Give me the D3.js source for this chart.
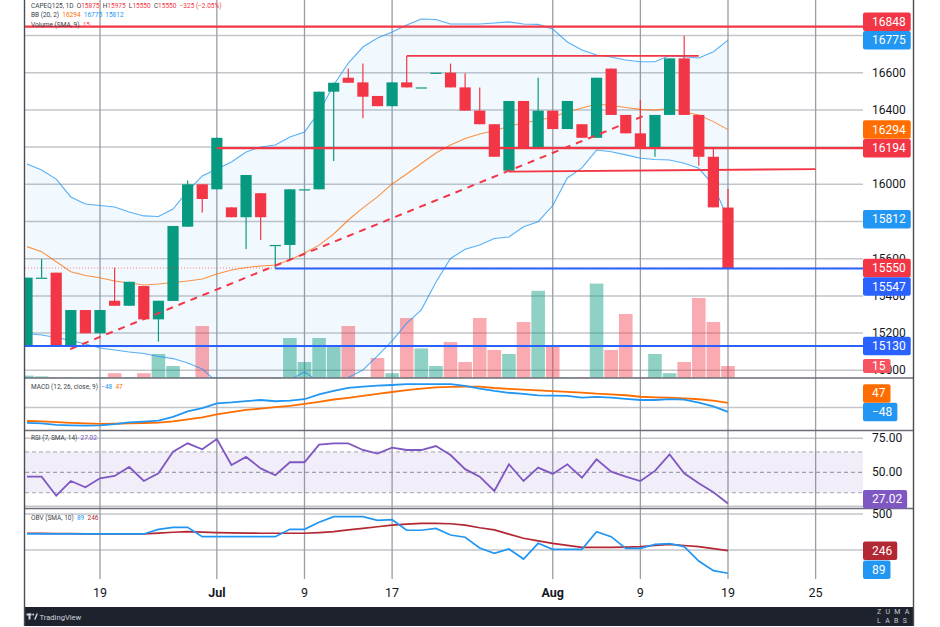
<!DOCTYPE html>
<html>
<head>
<meta charset="utf-8">
<script src="https://cdn.jsdelivr.net/npm/d3@7"></script>
<style>
  html, body { margin: 0; padding: 0; background: #fff; }
  svg { display: block; font-family: Roboto, "Liberation Sans", sans-serif; }
</style>
</head>
<body>
<svg id="chart" width="940" height="627"></svg>
<script>
/* ===== Data ===== */
const opens  = [15127,15498,15525,15127,15324,15199,15374,15347,15453,15274,15373,15772,16000,15973,15876,15823,15952,15674,15674,15973,15973,16498,16573,16548,16475,16420,16548,16521,16600,16600,16521,16396,16323,16073,16448,16197,16396,16297,16323,16250,16622,16373,16274,16197,16373,16677,16373,16148,15875];
const highs  = [15498,15598,15525,15324,15324,15324,15552,15476,15453,15374,15776,16020,16000,16250,15876,16050,15952,15674,15973,15973,16498,16546,16622,16649,16475,16548,16690,16521,16600,16649,16597,16521,16323,16448,16448,16573,16396,16448,16323,16573,16622,16373,16453,16373,16677,16799,16373,16190,15975];
const lows   = [15127,15498,15127,15127,15199,15199,15347,15347,15274,15154,15373,15772,15849,15973,15823,15652,15701,15548,15598,15973,15973,16125,16546,16355,16420,16420,16521,16521,16600,16521,16396,16323,16148,16073,16197,16197,16297,16297,16250,16250,16373,16274,16197,16148,16373,16373,16100,15876,15550];
const closes = [15498,15498,15127,15324,15199,15324,15347,15476,15274,15374,15776,16000,15921,16250,15823,16050,15823,15674,15973,15973,16498,16546,16546,16471,16420,16548,16521,16521,16600,16521,16396,16323,16148,16448,16197,16396,16297,16448,16250,16573,16373,16274,16197,16373,16677,16373,16148,15876,15550];
const volumes = [3,2,1,1,1,1,6,1,6,30,15,1,65,1,1,1,1,1,50,20,50,39,65,1,25,6,75,37,15,45,20,75,35,30,70,109,39,1,1,118,35,80,1,30,6,20,100,70,15];

const bbBasis = [15665,15638,15584,15530,15510,15498,15480,15469,15459,15464,15472,15480,15491,15518,15539,15553,15561,15566,15593,15631,15673,15733,15808,15873,15932,16002,16055,16112,16168,16211,16246,16270,16289,16311,16332,16343,16362,16389,16410,16432,16424,16413,16403,16399,16407,16389,16373,16337,16294];
const bbUpper = [16109,16077,16028,15932,15894,15886,15878,15851,15830,15827,15867,15964,16045,16082,16120,16174,16201,16211,16254,16281,16389,16534,16652,16738,16787,16819,16856,16889,16886,16862,16862,16862,16867,16873,16862,16860,16835,16765,16722,16695,16684,16668,16659,16659,16692,16686,16679,16713,16775];
const bbLower = [15198,15190,15176,15160,15141,15120,15109,15098,15090,15074,15063,15039,15007,14937,14915,14894,14905,14926,14948,14991,14937,14921,14961,15002,15078,15158,15252,15325,15473,15601,15651,15674,15709,15717,15772,15799,15886,16034,16088,16184,16175,16158,16140,16133,16131,16113,16086,15996,15812];

const macdLine   = [-163,-168,-185,-190,-192,-189,-176,-158,-150,-140,-99,-43,-8,43,53,67,78,65,71,86,138,175,206,219,229,236,246,246,246,244,226,197,173,154,142,127,123,122,103,110,103,90,78,78,87,82,50,10,-48];
const macdSignal = [-143,-148,-156,-163,-169,-174,-172,-168,-164,-161,-148,-125,-104,-74,-50,-27,-13,2,17,36,57,83,101,122,142,162,181,197,211,215,219,218,204,195,188,180,172,164,155,144,137,128,112,106,102,95,86,72,47];

const rsiValues = [46.8,46.8,32.8,43.6,39.0,45.6,47.3,53.9,43.6,49.3,65.1,71.3,66.9,74.5,55.4,61.3,52.9,47.8,57.4,57.4,70.3,71.3,71.3,66.4,63.7,68.1,66.4,66.4,69.3,62.7,52.3,46.8,36.3,55.9,43.6,53.4,48.8,55.9,46.0,59.5,50.5,46.8,43.6,51.0,63.2,49.3,41.9,35.3,27.02];

const obvValues = [362,362,362,362,362,362,362,362,362,394,408,408,343,343,343,343,343,343,394,394,443,482,482,482,457,461,388,388,401,355,339,265,228,258,188,297,255,255,255,378,343,262,262,290,295,274,174,107,89];
const obvSma    = [367,366,365,364,363,362,362,362,362,368,374,378,375,371,369,368,367,367,367,367,372,378,390,401,412,424,430,436,436,433,424,405,390,361,332,314,297,283,269,269,269,271,274,282,290,282,274,260,246];

const timeTicks  = [5, 13, 19, 25, 36, 42, 48, 54];
const timeLabels = ["19", "Jul", "9", "17", "Aug", "9", "19", "25"];
const priceTicks = [15000, 15200, 15400, 15600, 15800, 16000, 16200, 16400, 16600, 16800];
const rsiTicks   = [25, 75];
const rsiLabels  = [50, 75];
const rsiBands   = [35, 50, 65];
const obvTicks   = [250, 500];

// horizontal levels / drawings: [fromIndex, toIndex, price]
const redLevels  = [[-1, 60, 16848], [13, 60, 16194]];
const blueLevels = [[17, 60, 15547], [-1, 60, 15130]];
const shortLines = [[26, 46, 16690, 16690], [33, 54, 16068, 16082]];
const trendLine  = [[2.95, 15114], [42.4, 16373]];

/* ===== Layout ===== */
const frameL = 25, frameR = 913, plotR = 863;
const panes = {
  main: { top: 0, bottom: 378 },
  macd: { top: 378, bottom: 430.5 },
  rsi:  { top: 430.5, bottom: 508.5 },
  obv:  { top: 508.5, bottom: 580 }
};

const GREEN = "#089981", RED = "#f23645", BLUE = "#2196f3", ORANGE = "#ff6d00",
      DBLUE = "#2962ff", PURPLE = "#7e57c2", DRED = "#b22833", TXT = "#131722";

const svg = d3.select("#chart");
const idx = d3.range(closes.length);

const x = d3.scaleLinear().domain([0, 48]).range([27, 728]);
const yPrice = d3.scaleLinear().domain([15000, 16800]).range([370.3, 35.5]);
const yVol   = d3.scaleLinear().domain([0, 100]).range([378, 298]);
const yMacd  = d3.scaleLinear().domain([0, 100]).range([407.4, 397.9]);
const yRsi   = d3.scaleLinear().domain([25, 75]).range([506.3, 438.3]);
const yObv   = d3.scaleLinear().domain([250, 500]).range([550.1, 514.1]);

const defs = svg.append("defs");
Object.entries(panes).forEach(([k, p]) => {
  defs.append("clipPath").attr("id", "clip-" + k)
    .append("rect")
    .attr("x", frameL).attr("y", p.top)
    .attr("width", plotR - frameL).attr("height", p.bottom - p.top);
});

svg.append("rect").attr("width", 940).attr("height", 627).attr("fill", "#fff");

/* ===== Grid ===== */
const grid = svg.append("g");
function hGrid(values, scale) {
  grid.selectAll(null).data(values).join("line")
    .attr("x1", frameL).attr("x2", plotR)
    .attr("y1", d => scale(d)).attr("y2", d => scale(d))
    .attr("stroke", "#c3c5ca").attr("stroke-width", 1.5);
}
hGrid(priceTicks, yPrice);
hGrid([0], yMacd);
hGrid(rsiTicks, yRsi);
hGrid(obvTicks, yObv);

grid.selectAll(null).data(timeTicks).join("line")
  .attr("x1", d => x(d)).attr("x2", d => x(d))
  .attr("y1", 0).attr("y2", 579)
  .attr("stroke", "#9a9da5").attr("stroke-width", 1.3);

/* ===== Main pane ===== */
const main = svg.append("g").attr("clip-path", "url(#clip-main)");

main.append("path")
  .datum(idx)
  .attr("d", d3.area().x(i => x(i)).y0(i => yPrice(bbLower[i])).y1(i => yPrice(bbUpper[i])))
  .attr("fill", "rgba(33,150,243,0.06)");

main.selectAll(".vol").data(idx).join("rect")
  .attr("x", i => x(i) - 6.8).attr("width", 13.6)
  .attr("y", i => yVol(volumes[i]))
  .attr("height", i => yVol(0) - yVol(volumes[i]))
  .attr("fill", i => closes[i] >= opens[i] ? "rgba(8,153,129,0.45)" : "rgba(242,54,69,0.42)");

const bbLine = arr => d3.line().x(i => x(i)).y(i => yPrice(arr[i]));
[[bbUpper, BLUE], [bbLower, BLUE], [bbBasis, ORANGE]].forEach(([arr, c]) => {
  main.append("path").datum(idx).attr("d", bbLine(arr))
    .attr("fill", "none").attr("stroke", c).attr("stroke-opacity", 0.75).attr("stroke-width", 1.1);
});

const candles = main.append("g");
candles.selectAll("line").data(idx).join("line")
  .attr("x1", i => x(i)).attr("x2", i => x(i))
  .attr("y1", i => yPrice(highs[i])).attr("y2", i => yPrice(lows[i]))
  .attr("stroke", i => closes[i] >= opens[i] ? GREEN : RED)
  .attr("stroke-width", 1.2);
candles.selectAll("rect").data(idx).join("rect")
  .attr("x", i => x(i) - 5.6).attr("width", 11.2)
  .attr("y", i => yPrice(Math.max(opens[i], closes[i])))
  .attr("height", i => Math.max(1.2, Math.abs(yPrice(opens[i]) - yPrice(closes[i]))))
  .attr("fill", i => closes[i] >= opens[i] ? GREEN : RED);

// last price line
main.append("line")
  .attr("x1", frameL).attr("x2", plotR)
  .attr("y1", yPrice(closes[48])).attr("y2", yPrice(closes[48]))
  .attr("stroke", RED).attr("stroke-width", 1).attr("stroke-dasharray", "1 2").attr("opacity", 0.6);

// drawings
main.append("path")
  .attr("d", d3.line().x(d => x(d[0])).y(d => yPrice(d[1]))(trendLine))
  .attr("fill", "none").attr("stroke", RED).attr("stroke-width", 2).attr("stroke-dasharray", "7 6");
main.selectAll(".red").data(redLevels).join("line")
  .attr("x1", d => x(d[0])).attr("x2", d => x(d[1]))
  .attr("y1", d => yPrice(d[2])).attr("y2", d => yPrice(d[2]))
  .attr("stroke", RED).attr("stroke-width", 2.2);
main.selectAll(".short").data(shortLines).join("line")
  .attr("x1", d => x(d[0])).attr("x2", d => x(d[1]))
  .attr("y1", d => yPrice(d[2])).attr("y2", d => yPrice(d[3]))
  .attr("stroke", RED).attr("stroke-width", 1.8);
main.selectAll(".blue").data(blueLevels).join("line")
  .attr("x1", d => x(d[0])).attr("x2", d => x(d[1]))
  .attr("y1", d => yPrice(d[2])).attr("y2", d => yPrice(d[2]))
  .attr("stroke", DBLUE).attr("stroke-width", 2);

/* ===== MACD ===== */
const macdG = svg.append("g").attr("clip-path", "url(#clip-macd)");
[[macdSignal, ORANGE], [macdLine, BLUE]].forEach(([arr, c]) => {
  macdG.append("path").datum(idx)
    .attr("d", d3.line().x(i => x(i)).y(i => yMacd(arr[i])))
    .attr("fill", "none").attr("stroke", c).attr("stroke-width", 1.8);
});

/* ===== RSI ===== */
const rsiG = svg.append("g").attr("clip-path", "url(#clip-rsi)");
rsiG.append("rect")
  .attr("x", frameL).attr("width", plotR - frameL)
  .attr("y", yRsi(rsiBands[2])).attr("height", yRsi(rsiBands[0]) - yRsi(rsiBands[2]))
  .attr("fill", "rgba(126,87,194,0.1)");
rsiG.selectAll(".band").data(rsiBands).join("line")
  .attr("x1", frameL).attr("x2", plotR)
  .attr("y1", d => yRsi(d)).attr("y2", d => yRsi(d))
  .attr("stroke", d => d === 50 ? "#8a8d96" : "#a3a6ae")
  .attr("stroke-width", 1).attr("stroke-dasharray", "4 3");
rsiG.append("path").datum(idx)
  .attr("d", d3.line().x(i => x(i)).y(i => yRsi(rsiValues[i])))
  .attr("fill", "none").attr("stroke", PURPLE).attr("stroke-width", 1.8);

/* ===== OBV ===== */
const obvG = svg.append("g").attr("clip-path", "url(#clip-obv)");
[[obvSma, DRED], [obvValues, BLUE]].forEach(([arr, c]) => {
  obvG.append("path").datum(idx)
    .attr("d", d3.line().x(i => x(i)).y(i => yObv(arr[i])))
    .attr("fill", "none").attr("stroke", c).attr("stroke-width", 1.7);
});

/* ===== Pane separators ===== */
svg.selectAll(".sep").data([panes.macd.top, panes.rsi.top, panes.obv.top]).join("line")
  .attr("x1", frameL).attr("x2", frameR).attr("y1", d => d).attr("y2", d => d)
  .attr("stroke", "#6b6e78").attr("stroke-width", 1.4);

/* ===== Price tags (placed first so covered axis labels can be dropped) ===== */
function placeTags(list, bottom) {
  const placed = [];
  list.forEach(t => {
    let cy = t.y;
    placed.forEach(p => {
      if (Math.abs(cy - p.cy) < (t.h + p.h) / 2) {
        cy = t.y < p.cy ? p.cy - (t.h + p.h) / 2 : p.cy + (t.h + p.h) / 2;
      }
    });
    cy = Math.min(cy, bottom - t.h / 2);
    placed.push(Object.assign({}, t, { cy }));
  });
  return placed;
}
const fmtSigned = v => (v < 0 ? "\u2212" : "") + Math.abs(v);
const mainTags = placeTags([
  { y: yPrice(closes[48]), h: 18.5, c: RED, t: closes[48] },
  { y: yPrice(bbUpper[48]), h: 18.5, c: BLUE, t: bbUpper[48] },
  { y: yPrice(bbBasis[48]), h: 18.5, c: ORANGE, t: bbBasis[48] },
  { y: yPrice(bbLower[48]), h: 18.5, c: BLUE, t: bbLower[48] },
  { y: yPrice(redLevels[1][2]), h: 18.5, c: RED, t: redLevels[1][2] },
  { y: yPrice(redLevels[0][2]), h: 18.5, c: RED, t: redLevels[0][2] },
  { y: yPrice(blueLevels[0][2]), h: 18.5, c: DBLUE, t: blueLevels[0][2] },
  { y: yPrice(blueLevels[1][2]), h: 18.5, c: DBLUE, t: blueLevels[1][2] },
  { y: yVol(volumes[48]), h: 14, c: "#f7525f", t: volumes[48] }
], panes.main.bottom);
const macdTags = placeTags([
  { y: yMacd(macdLine[48]), h: 18.5, c: BLUE, t: fmtSigned(macdLine[48]) },
  { y: yMacd(macdSignal[48]), h: 18.5, c: ORANGE, t: fmtSigned(macdSignal[48]) }
], panes.macd.bottom);
const rsiTags = placeTags([
  { y: yRsi(rsiValues[48]), h: 18.5, c: PURPLE, t: rsiValues[48].toFixed(2) }
], panes.rsi.bottom);
const obvTags = placeTags([
  { y: yObv(obvSma[48]), h: 18.5, c: DRED, t: obvSma[48] },
  { y: yObv(obvValues[48]), h: 18.5, c: BLUE, t: obvValues[48] }
], panes.obv.bottom - 1);
const allTags = [...mainTags, ...macdTags, ...rsiTags, ...obvTags];

/* ===== Axis labels ===== */
const labels = svg.append("g").attr("font-size", 12).attr("fill", TXT);
// a label whose middle sits right under a tag is hidden, as on the platform
const covered = y => allTags.some(t => Math.abs(t.cy - y) < t.h / 2 - 3);
function axisLabels(values, scale, fmt) {
  labels.selectAll(null).data(values.filter(d => !covered(scale(d)))).join("text")
    .attr("x", 872).attr("y", d => scale(d))
    .attr("dominant-baseline", "central")
    .text(fmt);
}
axisLabels(priceTicks, yPrice, d => d);
axisLabels(rsiLabels, yRsi, d => d.toFixed(2));
axisLabels(obvTicks, yObv, d => d);

labels.selectAll(null).data(timeTicks).join("text")
  .attr("x", d => x(d)).attr("y", 592)
  .attr("text-anchor", "middle").attr("dominant-baseline", "central")
  .attr("font-size", 12.5)
  .attr("font-weight", (d, i) => isNaN(+timeLabels[i]) ? 700 : 400)
  .text((d, i) => timeLabels[i]);

const tagG = svg.append("g");
allTags.forEach(t => {
  const g = tagG.append("g");
  const r = g.append("rect").attr("x", 863).attr("y", t.cy - t.h / 2)
    .attr("height", t.h).attr("rx", 2).attr("fill", t.c);
  const tx = g.append("text").attr("x", 872).attr("y", t.cy)
    .attr("dominant-baseline", "central").attr("font-size", 12).attr("fill", "#fff")
    .text(t.t);
  r.attr("width", tx.node().getComputedTextLength() + 14);
});

/* ===== Legends ===== */
function legend(y, parts) {
  const t = svg.append("text").attr("x", 31).attr("y", y)
    .attr("font-size", 6.5).attr("dominant-baseline", "central")
    .style("white-space", "pre");
  parts.forEach(([s, c]) => t.append("tspan").attr("fill", c).text(s));
}
const chg = closes[48] - opens[48];
legend(6, [["CAPEQ125, 1D  ", "#3b3f4a"], ["O", "#3b3f4a"], [opens[48] + "  ", RED],
  ["H", "#3b3f4a"], [highs[48] + "  ", RED], ["L", "#3b3f4a"], [lows[48] + "  ", RED],
  ["C", "#3b3f4a"], [closes[48] + "  ", RED],
  [fmtSigned(chg) + " (" + fmtSigned((chg / opens[48] * 100).toFixed(2)) + "%)", RED]]);
legend(15.3, [["BB (20, 2)  ", "#3b3f4a"], [bbBasis[48] + "  ", ORANGE], [bbUpper[48] + "  ", BLUE], [bbLower[48], BLUE]]);
legend(24.7, [["Volume (SMA, 9)  ", "#3b3f4a"], [volumes[48], "#f7525f"]]);
legend(387.3, [["MACD (12, 26, close, 9)  ", "#3b3f4a"], [fmtSigned(macdLine[48]) + "  ", BLUE], [macdSignal[48], ORANGE]]);
legend(438.3, [["RSI (7, SMA, 14)  ", "#3b3f4a"], [rsiValues[48].toFixed(2), PURPLE]]);
legend(518.3, [["OBV (SMA, 10)  ", "#3b3f4a"], [obvValues[48] + "  ", BLUE], [obvSma[48], DRED]]);

/* ===== Footer bar & frame ===== */
svg.append("rect").attr("x", 24).attr("y", 607).attr("width", frameR - 24 + 0.5).attr("height", 19)
  .attr("fill", "#1e222d");
const logo = svg.append("g").attr("fill", "#d1d4dc");
logo.append("rect").attr("x", 26.5).attr("y", 613.5).attr("width", 5).attr("height", 2);
logo.append("rect").attr("x", 28.5).attr("y", 613.5).attr("width", 2).attr("height", 6);
logo.append("circle").attr("cx", 33.2).attr("cy", 614.5).attr("r", 1);
logo.append("path").attr("d", "M34 619.5 L36.5 613.5 L38 613.5 L35.6 619.5 Z");
svg.append("text").attr("x", 39.5).attr("y", 617).attr("dominant-baseline", "central")
  .attr("font-size", 7.6).attr("fill", "#d1d4dc").text("TradingView");
svg.append("text").attr("x", 877).attr("y", 612.3).attr("dominant-baseline", "central")
  .attr("font-size", 7).attr("letter-spacing", 4.3).attr("fill", "#c8cbd3").text("ZUMA");
svg.append("text").attr("x", 877).attr("y", 620.7).attr("dominant-baseline", "central")
  .attr("font-size", 7).attr("letter-spacing", 4.3).attr("fill", "#c8cbd3").text("LABS");

svg.selectAll(".frame").data([24.5, frameR + 0.5]).join("line")
  .attr("x1", d => d).attr("x2", d => d).attr("y1", 0).attr("y2", 626)
  .attr("stroke", "#4a4d55").attr("stroke-width", 1.4);
</script>
</body>
</html>
